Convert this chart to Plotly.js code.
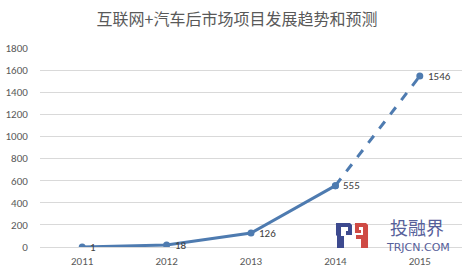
<!DOCTYPE html>
<html>
<head>
<meta charset="utf-8">
<script src="https://cdn.plot.ly/plotly-3.0.1.min.js"></script>
<style>html,body{margin:0;padding:0;background:#fff}#chart{width:474px;height:273px}</style>
</head>
<body>
<div id="chart"></div>
<script>
const years = ['2011', '2012', '2013', '2014', '2015'];
const actualYears = ['2011', '2012', '2013', '2014'];
const actualValues = [1, 18, 126, 555];
const forecastYears = ['2014', '2015'];
const forecastValues = [555, 1546];
const yTicks = [0, 200, 400, 600, 800, 1000, 1200, 1400, 1600, 1800];
const titleText = '互联网+汽车后市场项目发展趋势和预测';
const logoText = '投融界';
const logoSub = 'TRJCN.COM';

const lineColor = '#4e7bb0';
const font = 'Calibri, Carlito, "Liberation Sans", "Noto Sans CJK SC", sans-serif';

// plot area in pixels: left 40, right 462, top 48, bottom 247
const PL = 40, PR = 462, PT = 48, PB = 247;
function px(x) { return (x - PL) / (PR - PL); }
function py(y) { return (PB - y) / (PB - PT); }
function pathFrom(pts) {
  return pts.map((p, i) => (i ? 'L ' : 'M ') + px(p[0]).toFixed(4) + ' ' + py(p[1]).toFixed(4)).join(' ') + ' Z';
}

const labelYears = actualYears.concat(forecastYears.slice(1));
const labelValues = actualValues.concat(forecastValues.slice(1));

const traces = [
  {
    x: forecastYears, y: forecastValues, type: 'scatter', mode: 'lines+markers',
    line: {color: lineColor, width: 3, dash: 'dash'},
    marker: {color: lineColor, size: 7}, hoverinfo: 'skip', showlegend: false
  },
  {
    x: actualYears, y: actualValues, type: 'scatter', mode: 'lines+markers',
    line: {color: lineColor, width: 3},
    marker: {color: lineColor, size: 7}, hoverinfo: 'skip', showlegend: false
  }
];

const annotations = labelYears.map((yr, i) => ({
  x: years.indexOf(yr), y: labelValues[i], xref: 'x', yref: 'y',
  text: String(labelValues[i]), showarrow: false,
  xanchor: 'left', yanchor: 'middle', xshift: 6, yshift: i === 0 ? -1 : 0,
  font: {family: font, size: 11, color: '#404040'}
}));

annotations.push(
  {xref: 'paper', yref: 'paper', x: px(417), y: py(227), xanchor: 'center', yanchor: 'middle',
   text: logoText, showarrow: false, borderpad: 0,
   font: {family: '"Noto Sans CJK SC", sans-serif', size: 18, color: '#56609a'}},
  {xref: 'paper', yref: 'paper', x: px(418), y: py(247), xanchor: 'center', yanchor: 'middle',
   text: logoSub, showarrow: false, borderpad: 0,
   font: {family: '"DejaVu Sans", sans-serif', size: 11, color: '#56609a'}}
);

const blueIcon = [
  [336, 223], [350, 223], [352, 225], [352, 235], [346, 235], [346, 231], [348, 231], [348, 227],
  [341, 227], [341, 236], [344, 236], [344, 248], [337, 248], [337, 236], [336, 235]
];
const redIcon = [
  [355, 223], [366, 223], [368, 225], [368, 248], [361, 248], [361, 239], [356, 239], [356, 235],
  [363, 235], [363, 227], [359, 227], [359, 230], [361, 230], [361, 233], [355, 233]
];

const layout = {
  width: 474, height: 273,
  margin: {l: PL, r: 474 - PR, t: PT, b: 273 - PB},
  paper_bgcolor: '#ffffff', plot_bgcolor: '#ffffff',
  title: {text: titleText, x: 0.5, xanchor: 'center', y: 0.93, yanchor: 'middle',
          font: {family: '"Noto Sans CJK SC", sans-serif', size: 16, color: '#595959'}},
  xaxis: {
    type: 'category', categoryarray: years, categoryorder: 'array',
    range: [-0.5, 4.5], showgrid: false, zeroline: false, showline: false,
    ticks: 'outside', ticklen: 4, tickcolor: 'rgba(0,0,0,0)',
    tickfont: {family: font, size: 11, color: '#595959'}, fixedrange: true
  },
  yaxis: {
    range: [0, 1800], tickvals: yTicks, ticktext: yTicks.map(String),
    showgrid: true, gridcolor: '#d9d9d9', gridwidth: 1,
    zeroline: true, zerolinecolor: '#d9d9d9', zerolinewidth: 1, showline: false,
    ticks: 'outside', ticklen: 9, tickcolor: 'rgba(0,0,0,0)',
    tickfont: {family: font, size: 11, color: '#595959'}, fixedrange: true
  },
  shapes: [
    {type: 'path', xref: 'paper', yref: 'paper', layer: 'above', path: pathFrom(blueIcon),
     fillcolor: '#3d4a8f', line: {width: 0}},
    {type: 'path', xref: 'paper', yref: 'paper', layer: 'above', path: pathFrom(redIcon),
     fillcolor: '#cf4a44', line: {width: 0}}
  ],
  annotations: annotations
};

Plotly.newPlot('chart', traces, layout, {displayModeBar: false, staticPlot: true});
</script>
</body>
</html>
